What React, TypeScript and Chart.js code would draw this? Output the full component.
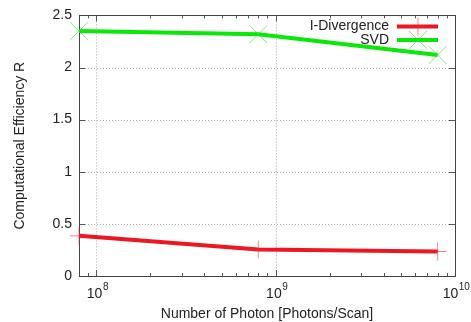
import React, { useEffect, useRef } from 'react';
import { Chart, registerables } from 'chart.js';

Chart.register(...registerables);

// ---- data ----
const photons = [8e7, 8e8, 8e9];
const iDivergence = [0.385, 0.255, 0.235];
const svd = [2.35, 2.32, 2.12];
const seriesNames = ['I-Divergence', 'SVD'];
const xMajorTicks = [1e8, 1e9, 1e10];
const xTickExponents = ['8', '9', '10'];
const xMinorMultipliers = [2, 3, 4, 5, 6, 7, 8, 9];
const xMinorDecades = [1e7, 1e8, 1e9];
const yTickValues = [0, 0.5, 1, 1.5, 2, 2.5];
const xTitle = 'Number of Photon [Photons/Scan]';
const yTitle = 'Computational Efficiency R';

const RED = 'rgb(238,22,34)';
const RED_PT = 'rgba(240,40,50,0.55)';
const GREEN = 'rgb(10,232,10)';
const GREEN_PT = 'rgba(30,230,30,0.6)';
const FAMILY = '"Liberation Sans", Arial, Helvetica, sans-serif';
const TEXT = '#222';

const decorPlugin = {
  id: 'decor',
  beforeDatasetsDraw(chart: any) {
    const { ctx, chartArea: a, scales } = chart;
    const xs = scales.x;
    const ys = scales.y;
    ctx.save();
    // dotted grid
    ctx.strokeStyle = 'rgba(150,150,150,0.8)';
    ctx.lineWidth = 1;
    ctx.setLineDash([1, 2]);
    ctx.beginPath();
    for (const v of yTickValues) {
      const y = Math.round(ys.getPixelForValue(v)) + 0.5;
      if (y <= a.top + 1 || y >= a.bottom - 1) continue;
      ctx.moveTo(a.left, y);
      ctx.lineTo(a.right, y);
    }
    for (const v of xMajorTicks) {
      const x = Math.round(xs.getPixelForValue(v)) + 0.5;
      if (x <= a.left + 1 || x >= a.right - 1) continue;
      ctx.moveTo(x, a.top);
      ctx.lineTo(x, a.bottom);
    }
    ctx.stroke();
    ctx.setLineDash([]);
    // tick marks
    ctx.strokeStyle = '#555';
    ctx.beginPath();
    for (const v of yTickValues) {
      const y = Math.round(ys.getPixelForValue(v)) + 0.5;
      ctx.moveTo(a.left, y);
      ctx.lineTo(a.left + 6, y);
      ctx.moveTo(a.right, y);
      ctx.lineTo(a.right - 6, y);
    }
    for (const v of xMajorTicks) {
      const x = Math.round(xs.getPixelForValue(v)) + 0.5;
      if (x < a.left || x > a.right) continue;
      ctx.moveTo(x, a.bottom);
      ctx.lineTo(x, a.bottom - 6);
      ctx.moveTo(x, a.top);
      ctx.lineTo(x, a.top + 6);
    }
    for (const d of xMinorDecades) {
      for (const m of xMinorMultipliers) {
        const v = d * m;
        if (v < xs.min || v > xs.max) continue;
        const x = Math.round(xs.getPixelForValue(v)) + 0.5;
        ctx.moveTo(x, a.bottom);
        ctx.lineTo(x, a.bottom - 3);
        ctx.moveTo(x, a.top);
        ctx.lineTo(x, a.top + 3);
      }
    }
    ctx.stroke();
    // border
    ctx.strokeStyle = '#444';
    ctx.strokeRect(Math.round(a.left) + 0.5, Math.round(a.top) + 0.5,
      Math.round(a.right - a.left), Math.round(a.bottom - a.top));
    ctx.restore();
  },
  afterDraw(chart: any) {
    const { ctx, chartArea: a, scales } = chart;
    const xs = scales.x;
    ctx.save();
    ctx.fillStyle = TEXT;
    // x tick labels with superscripts
    xMajorTicks.forEach((v, i) => {
      const cx = xs.getPixelForValue(v);
      ctx.font = `14px ${FAMILY}`;
      const wBase = ctx.measureText('10').width;
      ctx.font = `10px ${FAMILY}`;
      const wExp = ctx.measureText(xTickExponents[i]).width;
      const start = cx - (wBase + wExp) / 2 + 1;
      ctx.textAlign = 'left';
      ctx.textBaseline = 'middle';
      ctx.font = `14px ${FAMILY}`;
      ctx.fillText('10', start, a.bottom + 18);
      ctx.font = `10px ${FAMILY}`;
      ctx.fillText(xTickExponents[i], start + wBase + 0.5, a.bottom + 11);
    });
    // axis titles
    ctx.font = `14px ${FAMILY}`;
    ctx.textAlign = 'center';
    ctx.textBaseline = 'middle';
    ctx.fillText(xTitle, (a.left + a.right) / 2, a.bottom + 38);
    ctx.save();
    ctx.translate(20, (a.top + a.bottom) / 2);
    ctx.rotate(-Math.PI / 2);
    ctx.fillText(yTitle, 0, 0);
    ctx.restore();
    // legend
    const colors = [RED, GREEN];
    const ptColors = [RED_PT, GREEN_PT];
    seriesNames.forEach((name, i) => {
      const y = a.top + 11 + i * 13.5;
      ctx.font = `14px ${FAMILY}`;
      ctx.textAlign = 'right';
      ctx.fillStyle = TEXT;
      ctx.fillText(name, a.right - 66, y);
      ctx.strokeStyle = colors[i];
      ctx.lineWidth = 4;
      ctx.beginPath();
      ctx.moveTo(a.right - 58, y);
      ctx.lineTo(a.right - 17, y);
      ctx.stroke();
      const mx = a.right - 37;
      ctx.strokeStyle = ptColors[i];
      ctx.lineWidth = 1;
      ctx.beginPath();
      if (i === 0) {
        ctx.moveTo(mx - 9, y); ctx.lineTo(mx + 9, y);
        ctx.moveTo(mx, y - 9); ctx.lineTo(mx, y + 9);
      } else {
        ctx.moveTo(mx - 9, y - 9); ctx.lineTo(mx + 9, y + 9);
        ctx.moveTo(mx - 9, y + 9); ctx.lineTo(mx + 9, y - 9);
      }
      ctx.stroke();
    });
    ctx.restore();
  },
};

export default function App() {
  const ref = useRef<HTMLCanvasElement>(null);
  useEffect(() => {
    if (!ref.current) return;
    const chart = new Chart(ref.current, {
      type: 'line',
      data: {
        datasets: [
          {
            label: seriesNames[0],
            data: photons.map((x, i) => ({ x, y: iDivergence[i] })),
            borderColor: RED,
            borderWidth: 4,
            pointStyle: 'cross',
            pointRadius: 9,
            pointBorderWidth: 1,
            pointBorderColor: RED_PT,
            pointBackgroundColor: RED_PT,
            clip: false,
          } as any,
          {
            label: seriesNames[1],
            data: photons.map((x, i) => ({ x, y: svd[i] })),
            borderColor: GREEN,
            borderWidth: 4,
            pointStyle: 'crossRot',
            pointRadius: 12.5,
            pointBorderWidth: 1,
            pointBorderColor: GREEN_PT,
            pointBackgroundColor: GREEN_PT,
            clip: false,
          } as any,
        ],
      },
      options: {
        animation: false,
        responsive: false,
        maintainAspectRatio: false,
        layout: { padding: { top: 10, right: 16, left: 0, bottom: 0 } },
        plugins: {
          legend: { display: false },
          tooltip: { enabled: false },
        },
        scales: {
          x: {
            type: 'logarithmic',
            min: 8e7,
            max: 1e10,
            grid: { display: false },
            border: { display: false },
            ticks: { display: false },
            afterFit: (s: any) => { s.height = 46; },
          },
          y: {
            type: 'linear',
            min: 0,
            max: 2.5,
            grid: { display: false, drawTicks: false },
            border: { display: false },
            ticks: {
              stepSize: 0.5,
              padding: 7,
              color: TEXT,
              font: { family: FAMILY, size: 14 },
              callback: (v: any) => String(v),
            },
            afterFit: (s: any) => { s.width = 79; },
          },
        },
      } as any,
      plugins: [decorPlugin],
    });
    return () => chart.destroy();
  }, []);
  return (
    <div style={{ position: 'absolute', left: 0, top: 0, width: 471, height: 322, background: '#fff' }}>
      <canvas ref={ref} width={471} height={322} style={{ width: 471, height: 322 }} />
    </div>
  );
}
